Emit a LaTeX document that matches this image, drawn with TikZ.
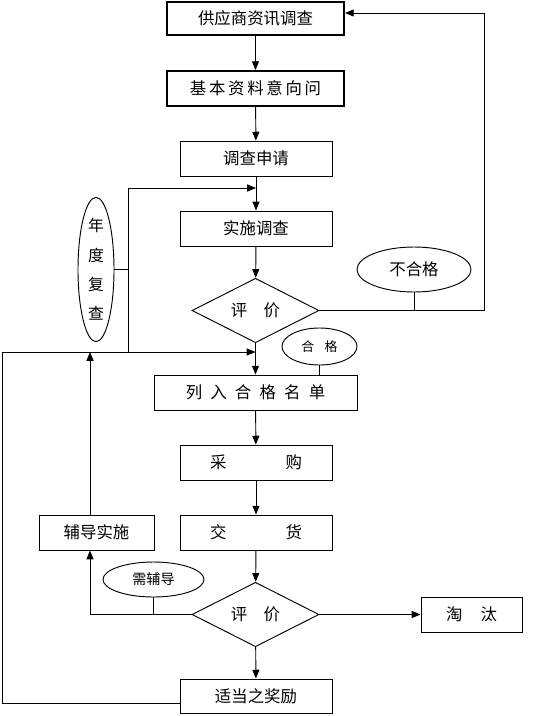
\documentclass[tikz,border=0pt]{standalone}
\usepackage{fontspec}
\setmainfont{Noto Sans CJK SC}
\usetikzlibrary{shapes,arrows.meta,positioning}

\begin{document}
\begin{tikzpicture}[x=0.03cm,y=-0.03cm,
box/.style={rectangle,draw,line width=0.8pt,minimum width=4.56cm,minimum height=1.05cm,inner sep=0pt,font=\fontsize{14}{16}\selectfont},
tbox/.style={box,line width=1.6pt,minimum width=5.31cm},
judge/.style={diamond,draw,line width=0.8pt,minimum width=3.81cm,minimum height=1.71cm,inner sep=0pt,font=\fontsize{14}{16}\selectfont},
oval/.style={ellipse,draw,line width=0.8pt,inner sep=0pt,font=\fontsize{14}{16}\selectfont},
arr/.style={-{Triangle[length=7.5pt,width=6pt]},line width=0.8pt},
ln/.style={line width=0.8pt}]
\useasboundingbox (0,0) rectangle (555,716);

\node[tbox,minimum height=1.0cm] at (255.5,18.5) (sup) {供应商资讯调查};
\node[tbox] at (255.5,88.5) (basic) {基\,本\,资\,料\,意\,向\,问};
\node[box] at (256,158.5) (apply) {调查申请};
\node[box] at (256,228.5) (exec) {实施调查};
\node[judge] at (255.5,310.5) (eval1) {评\hspace{1em}价};
\node[oval,minimum width=3.42cm,minimum height=1.35cm] at (414,269.5) (fail) {不合格};
\node[oval,minimum width=1.08cm,minimum height=4.23cm,align=center,font=\fontsize{13.5}{25}\selectfont] at (96,269.5) (annual) {年\\度\\复\\查};
\node[oval,minimum width=2.25cm,minimum height=1.11cm,font=\fontsize{11}{13}\selectfont] at (319.5,346.5) (pass) {合\hspace{0.8em}格};
\node[box,minimum width=6.09cm] at (255.5,392.5) (list) {列\hspace{0.5em}入\hspace{0.5em}合\hspace{0.5em}格\hspace{0.5em}名\hspace{0.5em}单};
\node[box] at (256,462.5) (buy) {采\hspace{3.6em}购};
\node[box] at (256,532.5) (deliver) {交\hspace{3.6em}货};
\node[box,minimum width=3.45cm] at (96.5,532.5) (coach) {辅导实施};
\node[judge] at (255.5,614.5) (eval2) {评\hspace{1em}价};
\node[oval,minimum width=3.03cm,minimum height=1.05cm,font=\fontsize{12}{14}\selectfont] at (153.5,579.5) (need) {需辅导};
\node[box,minimum width=3.03cm] at (471.5,614.5) (drop) {淘\hspace{1.1em}汰};
\node[box,minimum height=1.02cm] at (256,696) (reward) {适当之奖励};

\coordinate (rt) at (484,13);
\coordinate (fb1) at (128,188);
\coordinate (fb2) at (128,352);
\coordinate (up) at (90,352);
\coordinate (lb) at (2,703);

% main flow
\draw[arr] (sup) -- (basic);
\draw[arr] (basic) -- (apply);
\draw[arr] (apply) -- (exec);
\draw[arr] (exec) -- (eval1);
\draw[arr] (eval1) -- (list);
\draw[arr] (list) -- (buy);
\draw[arr] (buy) -- (deliver);
\draw[arr] (deliver) -- (eval2);
\draw[arr] (eval2) -- (reward);
\draw[arr] (eval2) -- (drop);

% feedback
\draw[arr] (eval1.east) -| (rt) -- (sup.east |- rt);
\draw[ln] (fail.south) -- (fail.south |- eval1.east);
\draw[ln] (pass.south) -- (pass.south |- list.north);
\draw[ln] (annual.east) -- (annual.east -| fb1);
\draw[ln] (fb2) -- (fb1);
\draw[arr] (fb1) -- (fb1 -| apply.south);
\draw[arr] (reward.west |- lb) -- (lb) |- (list.north |- fb2);
\draw[arr] (eval2.west) -| (coach.south -| up);
\draw[ln] (need.south) -- (need.south |- eval2.west);
\draw[arr] (coach.north -| up) -- (up);
\end{tikzpicture}
\end{document}
